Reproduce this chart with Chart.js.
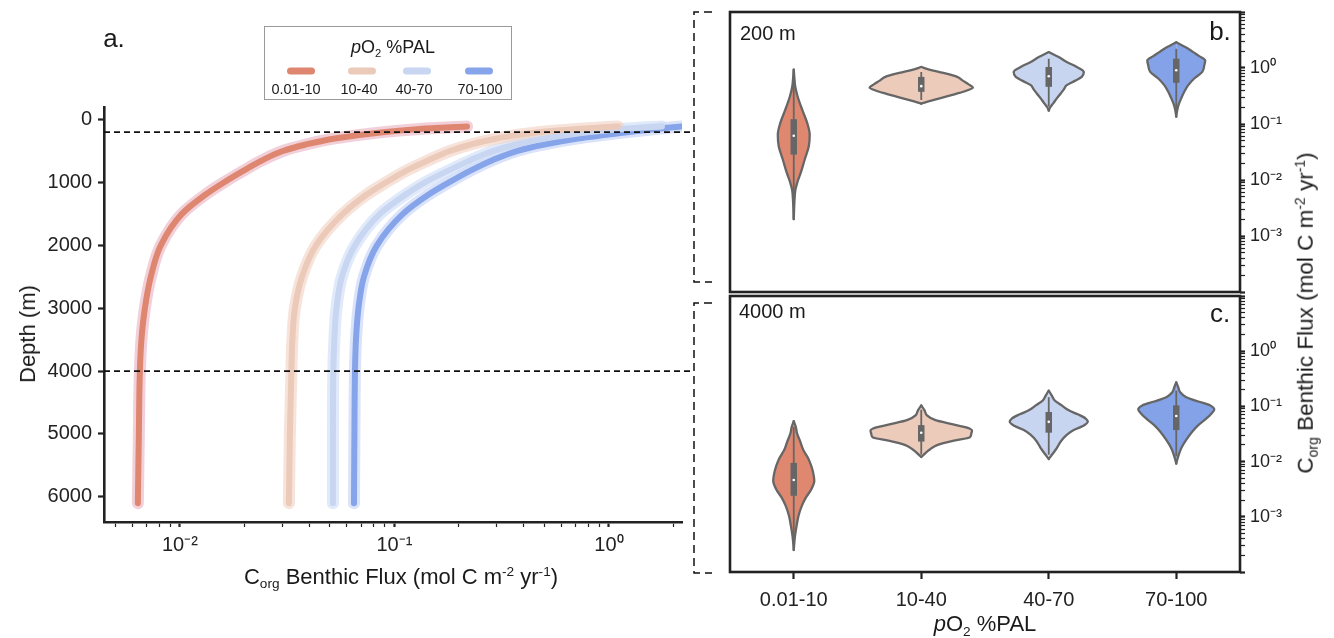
<!DOCTYPE html>
<html><head><meta charset="utf-8">
<script src="https://cdn.jsdelivr.net/npm/chart.js@4.4.1/dist/chart.umd.min.js"></script>
<style>
body{margin:0;background:#fff;}
#root{position:relative;width:1334px;height:638px;overflow:hidden;font-family:"Liberation Sans",Arial,sans-serif;color:#1a1a1a;}
.abs{position:absolute;white-space:nowrap;line-height:1;}
.c{transform:translate(-50%,-50%);}
.lm{transform:translate(0,-50%);}
.rot{transform:translate(-50%,-50%) rotate(-90deg);}
sub{font-size:0.62em;vertical-align:-0.35em;}
sup{font-size:0.62em;vertical-align:0.55em;}
.wrap{position:absolute;}
#legend{position:absolute;left:264px;top:26px;width:248px;height:74px;border:1px solid #9a9a9a;box-sizing:border-box;}
.sw{position:absolute;width:28px;height:7px;border-radius:4px;transform:translate(-50%,-50%);}
</style></head>
<body><div id="root">
<div class="wrap" style="left:0;top:0;width:720px;height:638px"><canvas id="cA"></canvas></div>
<div class="wrap" style="left:720px;top:0;width:614px;height:300px"><canvas id="cB"></canvas></div>
<div class="wrap" style="left:720px;top:292px;width:614px;height:346px"><canvas id="cC"></canvas></div>
<div id="legend"></div>
<div class="abs c" style="left:114px;top:38px;font-size:26px">a.</div>
<div class="abs c" style="left:1220px;top:31px;font-size:26px">b.</div>
<div class="abs c" style="left:1220px;top:313px;font-size:26px">c.</div>
<div class="abs lm" style="left:740px;top:33px;font-size:20px">200 m</div>
<div class="abs lm" style="left:739px;top:311px;font-size:20px">4000 m</div>
<div class="abs rot" style="left:28px;top:334px;font-size:22px">Depth (m)</div>
<div class="abs c" style="left:401px;top:578px;font-size:22px">C<sub>org</sub> Benthic Flux (mol C m<sup>-2</sup> yr<sup>-1</sup>)</div>
<div class="abs c" style="left:985px;top:626px;font-size:22px"><i>p</i>O<sub>2</sub> %PAL</div>
<div class="abs rot" style="left:1307px;top:313px;font-size:22.5px">C<sub>org</sub> Benthic Flux (mol C m<sup>-2</sup> yr<sup>-1</sup>)</div>
</div>
<script>
// ---------- data ----------
const categories = ['0.01-10', '10-40', '40-70', '70-100'];
const seriesColors = ['#DE8670', '#ECCABA', '#C8D6F1', '#86A4EA'];
const envelopeColors = ['rgba(226,150,172,0.45)', 'rgba(242,208,194,0.6)', 'rgba(208,222,247,0.65)', 'rgba(150,176,238,0.35)'];
const violinFill = ['#E0886F', '#ECCBBB', '#C7D5F0', '#84A2E8'];

// panel a: depth profiles (m) and benthic flux (mol C m-2 yr-1)
const depthM = [110, 150, 200, 300, 400, 500, 650, 800, 1000, 1200, 1500, 2000, 2500, 3000, 3500, 4000, 5000, 6100];
const flux_001_10 = [0.218, 0.1315, 0.0884, 0.0528, 0.0383, 0.0302, 0.0241, 0.0201, 0.01603, 0.01308, 0.01022, 0.00815, 0.00732, 0.00687, 0.00662, 0.00651, 0.00644, 0.00637];
const flux_10_40 = [1.102, 0.709, 0.4667, 0.3005, 0.2249, 0.1814, 0.1433, 0.1156, 0.0913, 0.0737, 0.0575, 0.0431, 0.0371, 0.03437, 0.03346, 0.0331, 0.03257, 0.03222];
const flux_40_70 = [1.766, 1.150, 0.798, 0.503, 0.3645, 0.2878, 0.2249, 0.1814, 0.1387, 0.1119, 0.0856, 0.0655, 0.0569, 0.0537, 0.0525, 0.0519, 0.0517, 0.0517];
const flux_70_100 = [2.189, 1.639, 1.213, 0.717, 0.4925, 0.3725, 0.2847, 0.2298, 0.1795, 0.1433, 0.1096, 0.0829, 0.0721, 0.0680, 0.0662, 0.0655, 0.0651, 0.0648];
const depthTicks = [0, 1000, 2000, 3000, 4000, 5000, 6000];
const markedDepths = [200, 4000];

// panels b/c: violin profiles, log10(flux) and half width (category units)
const v200_log = [
  [-0.03, -0.15, -0.336, -0.513, -0.749, -0.985, -1.19, -1.398, -1.634, -1.87, -2.05, -2.19, -2.4, -2.70],
  [0.018, -0.029, -0.088, -0.159, -0.230, -0.288, -0.347, -0.407, -0.465, -0.524, -0.584, -0.637],
  [0.284, 0.195, 0.107, 0.018, -0.070, -0.159, -0.230, -0.306, -0.383, -0.454, -0.542, -0.631, -0.701, -0.761],
  [0.461, 0.402, 0.343, 0.284, 0.213, 0.136, 0.048, -0.070, -0.188, -0.306, -0.424, -0.542, -0.660, -0.749, -0.867]
];
const v200_halfWidth = [
  [0, 0.004, 0.012, 0.031, 0.067, 0.106, 0.125, 0.118, 0.086, 0.055, 0.027, 0.012, 0.005, 0],
  [0, 0.063, 0.173, 0.282, 0.329, 0.369, 0.405, 0.353, 0.267, 0.173, 0.078, 0],
  [0, 0.078, 0.141, 0.220, 0.275, 0.259, 0.204, 0.141, 0.118, 0.094, 0.063, 0.035, 0.012, 0],
  [0, 0.047, 0.094, 0.133, 0.180, 0.227, 0.220, 0.204, 0.141, 0.094, 0.063, 0.039, 0.018, 0.008, 0]
];
// [whisker low, q1, median, q3, whisker high] as log10(flux)
const v200_box = [
  [-2.70, -1.545, -1.21, -0.914, -0.03],
  [-0.572, -0.425, -0.324, -0.159, -0.071],
  [-0.69, -0.336, -0.147, 0.018, 0.166],
  [-0.749, -0.265, -0.04, 0.166, 0.343]
];
const v4000_log = [
  [-1.268, -1.369, -1.488, -1.637, -1.786, -1.935, -2.083, -2.232, -2.351, -2.5, -2.649, -2.798, -2.976, -3.155, -3.363, -3.601],
  [-0.982, -1.071, -1.161, -1.25, -1.321, -1.381, -1.44, -1.5, -1.56, -1.619, -1.696, -1.786, -1.875, -1.917],
  [-0.714, -0.804, -0.893, -0.982, -1.071, -1.143, -1.22, -1.28, -1.357, -1.429, -1.518, -1.637, -1.756, -1.845, -1.905, -1.952],
  [-0.565, -0.655, -0.744, -0.833, -0.911, -0.982, -1.054, -1.131, -1.22, -1.339, -1.458, -1.607, -1.756, -1.875, -1.964, -2.036]
];
const v4000_halfWidth = [
  [0, 0.016, 0.026, 0.051, 0.074, 0.112, 0.138, 0.155, 0.161, 0.138, 0.096, 0.064, 0.038, 0.023, 0.009, 0],
  [0, 0.026, 0.045, 0.112, 0.241, 0.353, 0.398, 0.392, 0.38, 0.257, 0.129, 0.064, 0.02, 0],
  [0, 0.024, 0.047, 0.102, 0.157, 0.227, 0.29, 0.306, 0.267, 0.196, 0.141, 0.094, 0.063, 0.035, 0.016, 0],
  [0, 0.016, 0.031, 0.078, 0.173, 0.267, 0.298, 0.275, 0.235, 0.173, 0.125, 0.078, 0.039, 0.02, 0.008, 0]
];
const v4000_box = [
  [-3.452, -2.619, -2.333, -2.024, -1.369],
  [-1.875, -1.637, -1.476, -1.339, -1.059],
  [-1.875, -1.476, -1.28, -1.101, -0.833],
  [-1.905, -1.429, -1.173, -0.982, -0.714]
];

// ---------- helpers ----------
const FONT = '"Liberation Sans", Arial, sans-serif';
const INK = '#222';
const SUP = {'-': '\u207B', '0': '\u2070', '1': '\u00B9', '2': '\u00B2', '3': '\u00B3', '4': '\u2074'};
function isPow10(v) { const l = Math.log10(v); return Math.abs(l - Math.round(l)) < 1e-6; }
function powLabel(v, shown) {
  if (!isPow10(v)) return '';
  const e = Math.round(Math.log10(v));
  if (!shown.includes(e)) return '';
  return '10' + String(e).split('').map(ch => SUP[ch]).join('');
}
function logTicks(min, max) {
  const out = [];
  for (let e = Math.floor(Math.log10(min)); e <= Math.ceil(Math.log10(max)); e++) {
    for (let s = 1; s <= 9; s++) {
      const v = s * Math.pow(10, e);
      if (v >= min * 0.9999 && v <= max * 1.0001) out.push({value: v, major: s === 1});
    }
  }
  return out;
}

// legend
(function () {
  const lg = document.getElementById('legend');
  const title = document.createElement('div');
  title.className = 'abs c'; title.style.left = '128px'; title.style.top = '22px'; title.style.fontSize = '18px';
  title.innerHTML = '<i>p</i>O<sub>2</sub> %PAL';
  lg.appendChild(title);
  const swX = [36, 97, 152, 214], lbX = [31, 94, 149, 215];
  categories.forEach((c, i) => {
    const s = document.createElement('div');
    s.className = 'sw'; s.style.left = swX[i] + 'px'; s.style.top = '44px'; s.style.background = seriesColors[i];
    lg.appendChild(s);
    const t = document.createElement('div');
    t.className = 'abs c'; t.style.left = lbX[i] + 'px'; t.style.top = '62px'; t.style.fontSize = '14.5px';
    t.textContent = c;
    lg.appendChild(t);
  });
})();

Chart.defaults.font.family = FONT;
Chart.defaults.color = INK;
Chart.defaults.animation = false;

// ---------- panel a ----------
const seriesFlux = [flux_001_10, flux_10_40, flux_40_70, flux_70_100];
const dsA = [];
seriesFlux.forEach((fx, i) => {
  const pts = depthM.map((d, k) => ({x: fx[k], y: d}));
  dsA.push({data: pts, borderColor: seriesColors[i], borderWidth: 6, order: 1,
    pointRadius: 0, borderCapStyle: 'round', borderJoinStyle: 'round', cubicInterpolationMode: 'monotone', fill: false});
  dsA.push({data: pts, borderColor: envelopeColors[i], borderWidth: 12, order: 2,
    pointRadius: 0, borderCapStyle: 'round', borderJoinStyle: 'round', cubicInterpolationMode: 'monotone', fill: false});
});

const guidesPlugin = {
  id: 'guides',
  afterDraw(chart) {
    const ctx = chart.ctx, y = chart.scales.y, a = chart.chartArea;
    ctx.save();
    ctx.strokeStyle = '#111'; ctx.lineWidth = 1.6; ctx.setLineDash([6, 4]);
    markedDepths.forEach(d => {
      const py = y.getPixelForValue(d);
      ctx.beginPath(); ctx.moveTo(a.left, py); ctx.lineTo(694, py); ctx.stroke();
    });
    ctx.setLineDash([8, 5]); ctx.lineWidth = 1.5;
    [[12, 282], [303, 573]].forEach(([t, b]) => {
      ctx.beginPath();
      ctx.moveTo(712, t); ctx.lineTo(694, t); ctx.lineTo(694, b); ctx.lineTo(712, b);
      ctx.stroke();
    });
    ctx.restore();
  }
};

new Chart(document.getElementById('cA'), {
  type: 'line',
  data: {datasets: dsA},
  options: {
    responsive: true, maintainAspectRatio: false, indexAxis: 'y',
    layout: {padding: {top: 107, right: 38, bottom: 36, left: 0}},
    plugins: {legend: {display: false}, tooltip: {enabled: false}},
    scales: {
      x: {
        type: 'logarithmic', min: 0.00443, max: 2.19,
        afterBuildTicks: s => { s.ticks = logTicks(0.00443, 2.19); },
        afterFit: s => { s.height = 80; s.paddingLeft = 0; s.paddingRight = 0; },
        border: {display: true, width: 2.6, color: INK},
        grid: {drawOnChartArea: false, drawTicks: true, tickLength: 5, tickColor: INK,
          tickWidth: c => (c.tick && isPow10(c.tick.value)) ? 2.2 : 1.2},
        ticks: {autoSkip: false, maxRotation: 0, padding: 6, font: {size: 20},
          callback: v => powLabel(v, [-2, -1, 0])}
      },
      y: {
        type: 'linear', reverse: true, min: -200, max: 6400,
        afterBuildTicks: s => { s.ticks = depthTicks.map(v => ({value: v})); },
        afterFit: s => { s.width = 104; s.paddingTop = 0; s.paddingBottom = 0; },
        border: {display: true, width: 2.6, color: INK},
        grid: {drawOnChartArea: false, drawTicks: true, tickLength: 6, tickColor: INK, tickWidth: 2.2},
        ticks: {padding: 6, font: {size: 20}, callback: v => String(v)}
      }
    }
  },
  plugins: [guidesPlugin]
});

// ---------- panels b / c ----------
function violinDatasets(logs, hws, boxes) {
  const ds = [];
  logs.forEach((lg, i) => {
    const hw = hws[i];
    const right = lg.map((l, k) => ({x: i + hw[k], y: Math.pow(10, l)}));
    const left = lg.map((l, k) => ({x: i - hw[k], y: Math.pow(10, l)}));
    [right, left].forEach(pts => ds.push({
      data: pts, borderColor: '#666', borderWidth: 2.3, backgroundColor: violinFill[i],
      fill: {value: i}, pointRadius: 0, cubicInterpolationMode: 'monotone', borderJoinStyle: 'round', borderCapStyle: 'round', order: 3
    }));
    const b = boxes[i];
    ds.push({data: [{x: i, y: Math.pow(10, b[0])}, {x: i, y: Math.pow(10, b[4])}],
      borderColor: '#666', borderWidth: 1.8, pointRadius: 0, fill: false, order: 2});
    ds.push({data: [{x: i, y: Math.pow(10, b[1])}, {x: i, y: Math.pow(10, b[3])}],
      borderColor: '#666', borderWidth: 6.5, borderCapStyle: 'butt', pointRadius: 0, fill: false, order: 1});
    ds.push({data: [{x: i, y: Math.pow(10, b[2])}], showLine: false, pointRadius: 1.3,
      pointBackgroundColor: '#fff', pointBorderWidth: 0, fill: false, order: 0});
  });
  return ds;
}

const framePlugin = {
  id: 'frame',
  afterDraw(chart) {
    const a = chart.chartArea, ctx = chart.ctx;
    ctx.save(); ctx.strokeStyle = INK; ctx.lineWidth = 2.6;
    ctx.strokeRect(a.left, a.top, a.right - a.left, a.bottom - a.top);
    ctx.restore();
  }
};

function violinChart(id, logs, hws, boxes, showX, padTop, padBottom) {
  return new Chart(document.getElementById(id), {
    type: 'line',
    data: {datasets: violinDatasets(logs, hws, boxes)},
    options: {
      responsive: true, maintainAspectRatio: false, indexAxis: 'y',
      layout: {padding: {top: padTop, right: 34, bottom: padBottom, left: 10}},
      plugins: {legend: {display: false}, tooltip: {enabled: false}, filler: {drawTime: 'beforeDatasetsDraw'}},
      scales: {
        x: {
          type: 'linear', min: -0.5, max: 3.5, display: showX,
          afterBuildTicks: s => { s.ticks = categories.map((c, i) => ({value: i})); },
          afterFit: s => { s.height = showX ? 66 : 0; s.paddingLeft = 0; s.paddingRight = 0; },
          border: {display: false},
          grid: {drawOnChartArea: false, drawTicks: true, tickLength: 7, tickColor: INK, tickWidth: 2.2},
          ticks: {padding: 9, maxRotation: 0, autoSkip: false, font: {size: 20},
            callback: v => categories[Math.round(v)] || ''}
        },
        y: {
          type: 'logarithmic', min: 1e-4, max: 10, position: 'right',
          afterBuildTicks: s => { s.ticks = logTicks(1e-4, 10); },
          afterFit: s => { s.width = 60; s.paddingTop = 0; s.paddingBottom = 0; },
          border: {display: false},
          grid: {drawOnChartArea: false, drawTicks: true, tickLength: 5, tickColor: INK,
            tickWidth: c => (c.tick && isPow10(c.tick.value)) ? 2.2 : 1.2},
          ticks: {autoSkip: false, padding: 5, font: {size: 18},
            callback: v => powLabel(v, [-3, -2, -1, 0])}
        }
      }
    },
    plugins: [framePlugin]
  });
}

violinChart('cB', v200_log, v200_halfWidth, v200_box, false, 12, 8);
violinChart('cC', v4000_log, v4000_halfWidth, v4000_box, true, 0, 0);
</script>
</body></html>
